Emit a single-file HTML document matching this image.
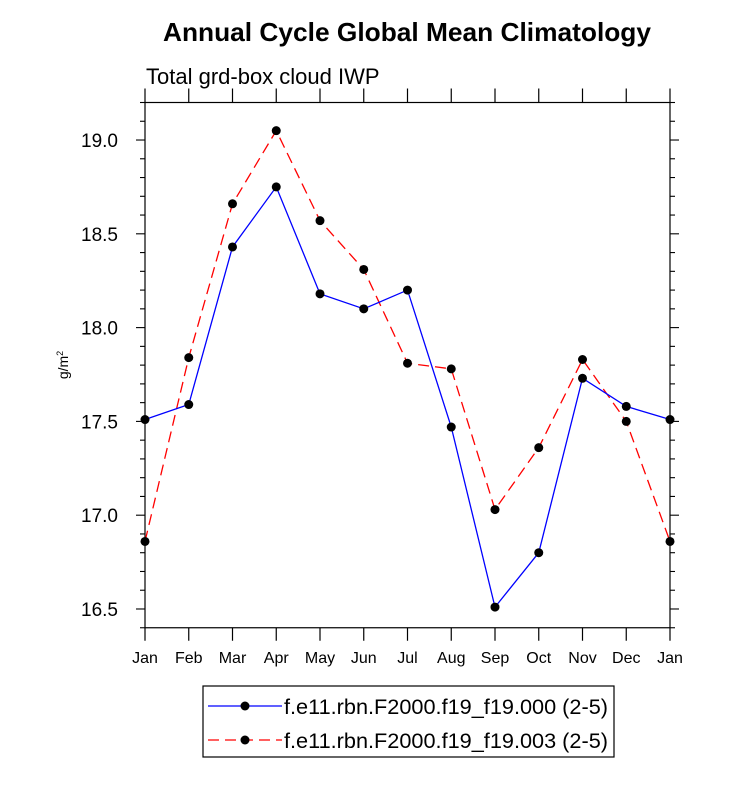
<!DOCTYPE html>
<html><head><meta charset="utf-8"><style>
body{margin:0;background:#fff}
svg text{font-family:"Liberation Sans",Arial,sans-serif}
</style></head><body>
<svg id="c" width="733" height="780" viewBox="0 0 733 780" xmlns="http://www.w3.org/2000/svg">
<text x="407" y="41" text-anchor="middle" font-size="26" font-weight="bold" textLength="488" lengthAdjust="spacingAndGlyphs">Annual Cycle Global Mean Climatology</text>
<text x="146" y="84" font-size="22">Total grd-box cloud IWP</text>
<text transform="translate(68,365) rotate(-90)" text-anchor="middle" font-size="14">g/m<tspan dy="-5" font-size="9">2</tspan></text>
<g id="axes"></g>
<g id="series"></g>
<g>
<rect x="203" y="686" width="411" height="71" fill="none" stroke="#000" stroke-width="1.2"/>
<g>
<line x1="208" y1="706" x2="282" y2="706" stroke="#0000ff" stroke-width="1.3"/>
<circle cx="245" cy="706" r="4.5" fill="#000"/>
<text x="284" y="714" font-size="21" textLength="324" lengthAdjust="spacingAndGlyphs">f.e11.rbn.F2000.f19_f19.000 (2-5)</text></g>
<g>
<line x1="208" y1="740" x2="282" y2="740" stroke="#ff0000" stroke-width="1.3" stroke-dasharray="11,6"/>
<circle cx="245" cy="740" r="4.5" fill="#000"/>
<text x="284" y="748" font-size="21" textLength="324" lengthAdjust="spacingAndGlyphs">f.e11.rbn.F2000.f19_f19.003 (2-5)</text></g>
</g>
</svg>
<script>
const months=["Jan","Feb","Mar","Apr","May","Jun","Jul","Aug","Sep","Oct","Nov","Dec","Jan"];
const series000=[17.51,17.59,18.43,18.75,18.18,18.10,18.20,17.47,16.51,16.80,17.73,17.58,17.51];
const series003=[16.86,17.84,18.66,19.05,18.57,18.31,17.81,17.78,17.03,17.36,17.83,17.50,16.86];
const yTickLabels=["16.5","17.0","17.5","18.0","18.5","19.0"];
const L=145,R=670,T=102.5,B=627.75,yMin=16.4,yMax=19.2;
const NS="http://www.w3.org/2000/svg";
const xs=i=>L+(R-L)*i/(months.length-1);
const ys=v=>B-(B-T)*(v-yMin)/(yMax-yMin);
function mk(t,a,p){const e=document.createElementNS(NS,t);for(const k in a)e.setAttribute(k,a[k]);p.appendChild(e);return e;}
const ax=document.getElementById('axes');
const frame=mk('rect',{x:L,y:T,width:R-L,height:B-T,fill:'none',stroke:'#000','stroke-width':1.2},ax);


months.forEach((m,i)=>{
  const x=xs(i);
  mk('line',{x1:x,y1:B,x2:x,y2:B+13,stroke:'#000','stroke-width':1.2},ax);
  mk('line',{x1:x,y1:T,x2:x,y2:T-14,stroke:'#000','stroke-width':1.2},ax);
  const t=mk('text',{x:x,y:B+35,'text-anchor':'middle','font-size':16},ax);
  t.textContent=m;
  
  
});
for(let k=0;k<=28;k++){
  const v=yMin+k*0.1,y=ys(v);
  const major=Math.abs((v*2)-Math.round(v*2))<1e-6;
  const len=major?9:5;
  mk('line',{x1:L,y1:y,x2:L-len,y2:y,stroke:'#000','stroke-width':1.1},ax);
  mk('line',{x1:R,y1:y,x2:R+len,y2:y,stroke:'#000','stroke-width':1.1},ax);
}
yTickLabels.forEach(s=>{
  const t=mk('text',{x:118,y:ys(parseFloat(s))+7,'text-anchor':'end','font-size':19},ax);
  t.textContent=s;
  
  
});
const sg=document.getElementById('series');
function draw(vals,color,dash,name){
  const g=mk('g',{},sg);
  
  
  const a={points:vals.map((v,i)=>xs(i)+','+ys(v)).join(' '),fill:'none',stroke:color,'stroke-width':1.3};
  if(dash)a['stroke-dasharray']=dash;
  const pl=mk('polyline',a,g);
  
  
  vals.forEach((v,i)=>{
    const c=mk('circle',{cx:xs(i),cy:ys(v),r:4.5,fill:'#000'},g);
    
    
  });
}
draw(series003,'#ff0000','11,6','series-003');
draw(series000,'#0000ff',null,'series-000');
</script>
</body></html>
